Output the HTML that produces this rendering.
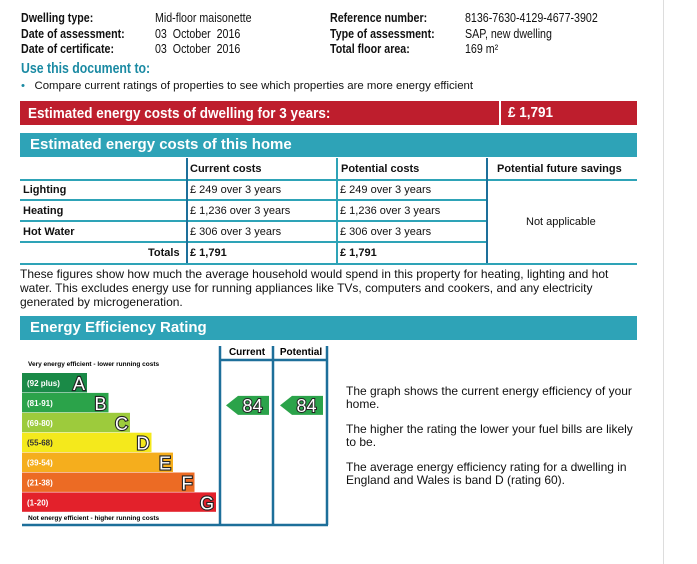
<!DOCTYPE html>
<html><head><meta charset="utf-8"><style>
body{margin:0;width:697px;height:564px;background:#fff;position:relative;overflow:hidden;font-family:"Liberation Sans",Arial,sans-serif;color:#111}
.a{position:absolute;white-space:nowrap}
.sq{transform:scaleX(0.82);transform-origin:left center;display:inline-block}
.b{font-weight:bold}
.bar{position:absolute;left:20px;width:617px;height:24px;color:#fff;font-weight:bold;font-size:14px;line-height:24px}
.hl{position:absolute;height:2px;background:#2ea3b7}
.vl{position:absolute;width:2px;background:#1d6f9a}
.cell{position:absolute;font-size:11px;white-space:nowrap}
</style></head><body>
<div class="a" style="left:663px;top:0;width:1px;height:564px;background:#ddd"></div>
<div style="font-size:13px">
<div class="a b" style="left:21px;top:10px"><span class="sq">Dwelling type:</span></div>
<div class="a" style="left:155px;top:10px"><span class="sq">Mid-floor maisonette</span></div>
<div class="a b" style="left:21px;top:26px"><span class="sq">Date of assessment:</span></div>
<div class="a" style="left:155px;top:26px"><span class="sq">03 &nbsp;October &nbsp;2016</span></div>
<div class="a b" style="left:21px;top:41px"><span class="sq">Date of certificate:</span></div>
<div class="a" style="left:155px;top:41px"><span class="sq">03 &nbsp;October &nbsp;2016</span></div>
<div class="a b" style="left:330px;top:10px"><span class="sq">Reference number:</span></div>
<div class="a" style="left:465px;top:10px"><span class="sq">8136-7630-4129-4677-3902</span></div>
<div class="a b" style="left:330px;top:26px"><span class="sq">Type of assessment:</span></div>
<div class="a" style="left:465px;top:26px"><span class="sq">SAP, new dwelling</span></div>
<div class="a b" style="left:330px;top:41px"><span class="sq">Total floor area:</span></div>
<div class="a" style="left:465px;top:41px"><span class="sq">169 m²</span></div>
</div>
<div class="a b" style="left:21px;top:60px;font-size:15px;color:#1a8aa3"><span class="sq">Use this document to:</span></div>
<div class="a" style="left:21px;top:80px;font-size:11.4px"><span style="color:#1a8aa3">•</span>&nbsp;&nbsp;&nbsp;<span>Compare current ratings of properties to see which properties are more energy efficient</span></div>
<div class="bar" style="top:101px;background:#be1e2d"><span class="sq" style="margin-left:8px;font-size:15px;transform:scaleX(.9)">Estimated energy costs of dwelling for 3 years:</span>
<div class="a" style="left:479px;top:0;width:2px;height:24px;background:#fff"></div>
<span class="a sq" style="left:488px;top:0;font-size:15px;transform:scaleX(.9)">£ 1,791</span></div>
<div class="bar" style="top:133px;background:#2ea3b7;font-size:15px"><span style="margin-left:10px">Estimated energy costs of this home</span></div>
<div>
<div class="hl" style="left:20px;top:179px;width:617px"></div>
<div class="hl" style="left:20px;top:199px;width:467px"></div>
<div class="hl" style="left:20px;top:220px;width:467px"></div>
<div class="hl" style="left:20px;top:241px;width:467px"></div>
<div class="hl" style="left:20px;top:263px;width:617px"></div>
<div class="vl" style="left:186px;top:158px;height:105px"></div>
<div class="vl" style="left:336px;top:158px;height:105px;background:#2ea3b7"></div>
<div class="vl" style="left:486px;top:158px;height:105px"></div>
<div class="cell b" style="left:190px;top:163px">Current costs</div>
<div class="cell b" style="left:341px;top:163px">Potential costs</div>
<div class="cell b" style="left:497px;top:163px">Potential future savings</div>
<div class="cell b" style="left:23px;top:184px">Lighting</div>
<div class="cell b" style="left:23px;top:205px">Heating</div>
<div class="cell b" style="left:23px;top:226px">Hot Water</div>
<div class="cell b" style="left:148px;top:247px">Totals</div>
<div class="cell" style="left:190px;top:184px">£ 249 over 3 years</div>
<div class="cell" style="left:190px;top:205px">£ 1,236 over 3 years</div>
<div class="cell" style="left:190px;top:226px">£ 306 over 3 years</div>
<div class="cell b" style="left:190px;top:247px">£ 1,791</div>
<div class="cell" style="left:340px;top:184px">£ 249 over 3 years</div>
<div class="cell" style="left:340px;top:205px">£ 1,236 over 3 years</div>
<div class="cell" style="left:340px;top:226px">£ 306 over 3 years</div>
<div class="cell b" style="left:340px;top:247px">£ 1,791</div>
<div class="cell" style="left:526px;top:216px">Not applicable</div>
</div>
<div class="a" style="left:20px;top:267px;font-size:12px;line-height:14px;white-space:normal;width:610px">These figures show how much the average household would spend in this property for heating, lighting and hot water. This excludes energy use for running appliances like TVs, computers and cookers, and any electricity generated by microgeneration.</div>
<div class="bar" style="top:316px;background:#2ea3b7;font-size:15px"><span style="margin-left:10px">Energy Efficiency Rating</span></div>
<svg class="a" style="left:0;top:340px" width="340" height="195" id="chart"></svg>
<div class="a" style="left:346px;top:385px;font-size:12px;line-height:13px;white-space:normal;width:300px">
<div style="margin-bottom:12px">The graph shows the current energy efficiency of your home.</div>
<div style="margin-bottom:12px">The higher the rating the lower your fuel bills are likely to be.</div>
<div>The average energy efficiency rating for a dwelling in England and Wales is band D (rating 60).</div></div>
<script>
const bandLetters=["A","B","C","D","E","F","G"];
const bandRanges=["(92 plus)","(81-91)","(69-80)","(55-68)","(39-54)","(21-38)","(1-20)"];
const bandMin=[92,81,69,55,39,21,1];
const bandColors=["#1a8a47","#2ba34a","#9dcb3c","#f4e91c","#f5ae1d","#ec6b24","#e3212b"];
const currentRating=84;
const potentialRating=84;
const NS="http://www.w3.org/2000/svg";
const svg=document.getElementById("chart");
function mk(t,a,txt){const e=document.createElementNS(NS,t);for(const k in a)e.setAttribute(k,a[k]);if(txt!=null)e.textContent=txt;svg.appendChild(e);return e;}
const y0=33,bh=19.9,bx=22;
function bandY(i){return y0+i*bh;}
function bandW(i){return 65+i*21.5;}
function ratingBand(r){for(let i=0;i<bandMin.length;i++)if(r>=bandMin[i])return i;return 6;}
let t=mk("text",{x:28,y:26,"font-size":"6.5","font-weight":"bold"},"Very energy efficient - lower running costs");

bandLetters.forEach((L,i)=>{
 const y=bandY(i),w=bandW(i);
 const r=mk("rect",{x:bx,y:y,width:w,height:bh-0.5,fill:bandColors[i]});
 
 
 const lt=mk("text",{x:bx+5,y:y+13,"font-size":"8","font-weight":"bold",fill:i===3?"#333":"#fff"},bandRanges[i]);
 
 
 const le=mk("text",{x:bx+w-2,y:y+17,"font-size":"18","text-anchor":"end",fill:"#fff",stroke:"#222","stroke-width":"2.2","paint-order":"stroke"},L);
 
 
});
t=mk("text",{x:28,y:180,"font-size":"6.5","font-weight":"bold"},"Not energy efficient - higher running costs");

[[220,6,185],[273,6,185],[327,6,185]].forEach(v=>{const l=mk("line",{x1:v[0],y1:v[1],x2:v[0],y2:v[2],stroke:"#1d6f9a","stroke-width":"2.5"});});
let l=mk("line",{x1:220,y1:20,x2:328,y2:20,stroke:"#1d6f9a","stroke-width":"2.5"});
l=mk("line",{x1:22,y1:185,x2:328,y2:185,stroke:"#1d6f9a","stroke-width":"2.5"});
t=mk("text",{x:247,y:15,"font-size":"10","font-weight":"bold","text-anchor":"middle"},"Current");
t=mk("text",{x:301,y:15,"font-size":"10","font-weight":"bold","text-anchor":"middle"},"Potential");
function arrow(r,x1,x2,name){const i=ratingBand(r),y=bandY(i)+3,h=19;
 const p=mk("polygon",{points:`${x1},${y+h/2} ${x1+12},${y} ${x2},${y} ${x2},${y+h} ${x1+12},${y+h}`,fill:bandColors[i]});
 
 const tx=mk("text",{x:(x1+x2)/2+5,y:y+16,"font-size":"18","text-anchor":"middle",fill:"#fff",stroke:"#222","stroke-width":"2","paint-order":"stroke"},String(r));
 }
arrow(currentRating,226,269,'current');
arrow(potentialRating,280,323,'potential');
</script>
</body></html>
